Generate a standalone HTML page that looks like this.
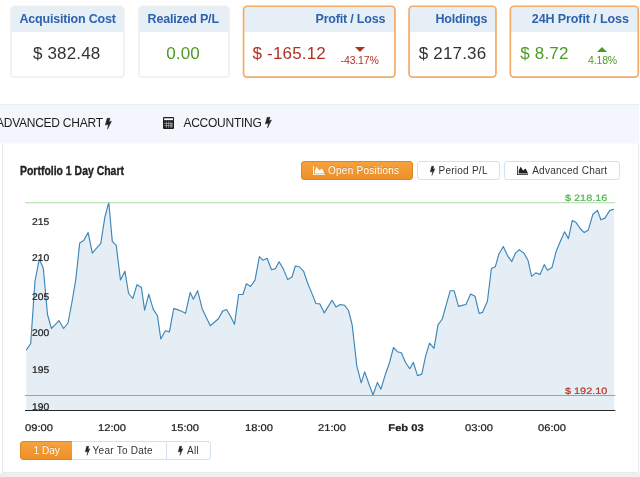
<!DOCTYPE html>
<html><head><meta charset="utf-8"><title>Portfolio</title>
<style>
html,body{margin:0;padding:0}
body{width:640px;height:477px;overflow:hidden;background:#fff;position:relative;font-family:"Liberation Sans",sans-serif;color:#333}
.abs{position:absolute}
.card{position:absolute;top:6px;height:72px;box-sizing:border-box;border:1px solid #e4e7eb;border-radius:4px;background:#fff;overflow:hidden}
.card.o{border:1px solid #f3a85f;box-shadow:0 0 0 0.6px #f6b578}
.card .h{position:absolute;left:0;right:0;top:0;height:25px;background:#e6eef6}
.ht{position:absolute;top:12px;font-weight:bold;font-size:12.5px;letter-spacing:-0.2px;color:#2d62ad;white-space:pre;line-height:14px}
.val{position:absolute;top:44.4px;font-size:17px;letter-spacing:0.17px;line-height:20px;white-space:pre;color:#333}
.red{color:#b03224}.green{color:#4c9c22}
.pct{position:absolute;font-size:10.5px;line-height:12px;letter-spacing:-0.15px;white-space:pre}
.tabbar{position:absolute;left:0;top:104px;width:638.5px;height:39px;background:#f3f7fd;border-top:1px solid #ececee;box-sizing:border-box}
.tab{position:absolute;top:116px;font-size:12px;line-height:14px;letter-spacing:-0.25px;color:#1c1c1c;white-space:pre}
.panel{position:absolute;left:2px;top:143px;width:637px;height:330px;box-sizing:border-box;background:#fff;border:1px solid #ebebeb;border-top:1px solid #f9fbfe}
.foot{position:absolute;left:0;top:473px;width:640px;height:4px;background:#efefef}
.title{position:absolute;left:20.1px;top:163.4px;font-weight:bold;font-size:13px;line-height:16px;color:#222;-webkit-text-stroke:0.35px #222;white-space:pre;transform:scaleX(0.804);transform-origin:0 0}
.btn{position:absolute;box-sizing:border-box;height:18.5px;border:1px solid #d3e1f2;background:#fff;border-radius:3px;font-size:10px;letter-spacing:0.25px;line-height:16px;color:#30333a;white-space:pre}
.btn.on{background:linear-gradient(#f6a23c,#ee8f28);border-color:#dd8726;color:#fff;text-shadow:0 -1px 0 rgba(0,0,0,0.15)}
.btn span{position:absolute;top:0.5px}
.yl{position:absolute;left:32.2px;font-size:9.75px;line-height:10px;color:#222;white-space:pre;text-rendering:geometricPrecision;-webkit-text-stroke:0.22px #222;transform:scaleX(1.06);transform-origin:0 0}
.xl{position:absolute;top:423.8px;font-size:9.75px;line-height:10px;color:#222;white-space:pre;text-rendering:geometricPrecision;transform:translateX(-50%) scaleX(1.145);-webkit-text-stroke:0.22px #222}
.ml{position:absolute;font-size:9.25px;line-height:10px;white-space:pre;text-rendering:geometricPrecision;-webkit-text-stroke:0.2px currentColor;transform:scaleX(1.175);transform-origin:0 0}
</style></head><body>
<div id="wrap" style="position:absolute;left:0;top:0;width:640px;height:477px;will-change:transform">

<svg class="abs" style="left:0;top:0" width="640" height="90" viewBox="0 0 640 90">
<path d="M11.05,31.9 V9.75 Q11.05,6.25 14.55,6.25 H120.35 Q123.85,6.25 123.85,9.75 V31.9 Z" fill="#e6eef6"/>
<rect x="11.05" y="6.25" width="112.80" height="70.80" rx="3.5" fill="none" stroke="#eeeff1" stroke-width="1.7"/>
<path d="M139.05,31.9 V9.75 Q139.05,6.25 142.55,6.25 H225.45 Q228.95,6.25 228.95,9.75 V31.9 Z" fill="#e6eef6"/>
<rect x="139.05" y="6.25" width="89.90" height="70.80" rx="3.5" fill="none" stroke="#eeeff1" stroke-width="1.7"/>
<path d="M243.55,31.9 V9.75 Q243.55,6.25 247.05,6.25 H391.45 Q394.95,6.25 394.95,9.75 V31.9 Z" fill="#e6eef6"/>
<rect x="243.55" y="6.25" width="151.40" height="70.80" rx="3.5" fill="none" stroke="#f3ac6a" stroke-width="1.7"/>
<path d="M409.05,31.9 V9.75 Q409.05,6.25 412.55,6.25 H492.45 Q495.95,6.25 495.95,9.75 V31.9 Z" fill="#e6eef6"/>
<rect x="409.05" y="6.25" width="86.90" height="70.80" rx="3.5" fill="none" stroke="#f3ac6a" stroke-width="1.7"/>
<path d="M510.35,31.9 V9.75 Q510.35,6.25 513.85,6.25 H634.75 Q638.25,6.25 638.25,9.75 V31.9 Z" fill="#e6eef6"/>
<rect x="510.35" y="6.25" width="127.90" height="70.80" rx="3.5" fill="none" stroke="#f3ac6a" stroke-width="1.7"/>
</svg>

<div class="ht" style="left:19.5px">Acquisition Cost</div>
<div class="ht" style="left:147.6px">Realized P/L</div>
<div class="ht" style="left:315.5px">Profit / Loss</div>
<div class="ht" style="left:435.4px">Holdings</div>
<div class="ht" style="left:531.8px;letter-spacing:-0.1px">24H Profit / Loss</div>

<div class="val" style="left:32.9px">$ 382.48</div>
<div class="val green" style="left:166.2px">0.00</div>
<div class="val red" style="left:252.6px">$ -165.12</div>
<div class="val" style="left:418.8px">$ 217.36</div>
<div class="val green" style="left:520.3px">$ 8.72</div>

<svg class="abs" style="left:354.5px;top:46.7px" width="10" height="5" viewBox="0 0 10 5"><polygon points="0,0 10,0 5,5" fill="#b03224"/></svg>
<div class="pct red" style="left:340.6px;top:53.5px">-43.17%</div>
<svg class="abs" style="left:597.3px;top:46.7px" width="10" height="5" viewBox="0 0 10 5"><polygon points="0,5 10,5 5,0" fill="#4c9c22"/></svg>
<div class="pct green" style="left:588px;top:53.5px">4.18%</div>

<div class="tabbar"></div>
<div class="tab" style="left:-4px">ADVANCED CHART</div>
<svg style="position:absolute;left:105px;top:117.5px" width="6.8" height="11.5" viewBox="0 0 7 12" preserveAspectRatio="none" fill="#222" stroke="#222" overflow="visible"><polygon points="2.2,0.3 5.2,0.3 4.1,3.9 6.7,3.3 2.6,11.7 3.4,6.7 0.3,7.4" stroke-width="0.45" stroke-linejoin="round"/></svg>
<svg class="abs" style="left:163px;top:116.9px" width="11.1" height="11.9" viewBox="0 0 12 12" preserveAspectRatio="none"><rect x="0" y="0" width="12" height="12" rx="1.2" fill="#1d1d1d"/><rect x="1.2" y="1.3" width="9.6" height="1.9" fill="#fff"/><g stroke="#c4c4c4" stroke-width="0.65"><path d="M3.7,4.6 V10.9 M6.1,4.6 V10.9 M8.5,4.6 V10.9 M1.2,6.5 H10.8 M1.2,8.7 H8.5"/></g><rect x="9.2" y="7.2" width="0.9" height="3.2" fill="#ddd"/></svg>
<div class="tab" style="left:183.4px">ACCOUNTING</div>
<svg style="position:absolute;left:265px;top:117px" width="6.8" height="11.3" viewBox="0 0 7 12" preserveAspectRatio="none" fill="#222" stroke="#222" overflow="visible"><polygon points="2.2,0.3 5.2,0.3 4.1,3.9 6.7,3.3 2.6,11.7 3.4,6.7 0.3,7.4" stroke-width="0.45" stroke-linejoin="round"/></svg>

<div class="panel"></div>
<div class="foot"></div>
<div class="title">Portfolio 1 Day Chart</div>

<div class="btn on" style="left:301px;top:161px;width:112px"><span style="left:26px">Open Positions</span></div>
<svg style="position:absolute;left:313.1px;top:165.8px" width="12" height="9" viewBox="0 0 16 12" preserveAspectRatio="none" fill="#fff"><path d="M0,0 H1.1 V10.9 H16 V12 H0 Z"/><path d="M2.3,10 V6.4 L4.9,1.1 L8.5,5.9 L12,3.2 L15.3,10 Z"/></svg>
<div class="btn" style="left:417px;top:161px;width:83px"><span style="left:20.5px">Period P/L</span></div>
<svg style="position:absolute;left:430.1px;top:165.7px" width="5.2" height="9.7" viewBox="0 0 7 12" preserveAspectRatio="none" fill="#222" stroke="#222" overflow="visible"><polygon points="2.2,0.3 5.2,0.3 4.1,3.9 6.7,3.3 2.6,11.7 3.4,6.7 0.3,7.4" stroke-width="0.45" stroke-linejoin="round"/></svg>
<div class="btn" style="left:504px;top:161px;width:116.3px"><span style="left:27.2px">Advanced Chart</span></div>
<svg style="position:absolute;left:516.6px;top:165.8px" width="11.6" height="9" viewBox="0 0 16 12" preserveAspectRatio="none" fill="#222"><path d="M0,0 H1.1 V10.9 H16 V12 H0 Z"/><path d="M2.3,10 V6.4 L4.9,1.1 L8.5,5.9 L12,3.2 L15.3,10 Z"/></svg>

<svg class="abs" style="left:0;top:0" width="640" height="477" viewBox="0 0 640 477">
<path d="M26.3,350.1 L30.7,343.5 L35.0,281.0 L39.3,258.9 L43.3,268.3 L47.5,314.5 L51.4,328.5 L55.2,324.6 L59.0,320.7 L63.6,328.5 L68.0,323.0 L71.8,303.0 L75.8,279.3 L79.7,243.1 L83.7,240.6 L88.1,232.4 L92.3,253.2 L97.0,247.7 L100.7,243.7 L104.9,217.0 L108.8,202.5 L112.3,241.4 L116.2,245.3 L120.5,280.0 L124.9,271.2 L128.6,293.5 L132.8,298.5 L137.0,284.7 L141.4,287.4 L144.6,310.2 L148.8,294.2 L153.2,309.1 L157.5,315.8 L160.8,339.0 L165.3,330.8 L169.4,331.9 L173.7,308.6 L178.4,309.9 L182.0,311.6 L185.5,313.3 L190.2,292.4 L193.4,299.3 L197.6,290.7 L202.1,308.4 L206.2,317.3 L210.3,325.8 L214.4,322.3 L218.4,318.8 L222.6,311.1 L226.6,309.5 L230.5,316.3 L234.5,324.3 L238.6,294.5 L242.9,294.5 L246.4,283.8 L250.6,286.5 L255.0,280.2 L259.4,256.6 L262.9,260.2 L267.1,258.3 L271.5,269.7 L275.5,268.6 L279.1,261.8 L283.3,268.9 L287.7,279.6 L292.0,277.0 L295.3,266.0 L299.8,267.0 L303.8,271.7 L307.6,283.0 L312.0,293.6 L315.9,303.5 L319.9,303.9 L324.3,312.9 L328.1,306.6 L332.0,300.3 L336.1,307.1 L340.3,304.6 L344.6,305.3 L348.5,310.5 L352.2,325.0 L356.8,365.9 L361.2,382.9 L364.7,371.9 L368.8,383.5 L373.0,395.0 L377.4,382.4 L380.9,389.2 L385.6,373.7 L389.5,362.7 L393.5,347.5 L397.4,351.7 L401.3,352.8 L405.7,362.7 L409.7,368.7 L413.4,362.4 L417.5,375.6 L421.8,374.1 L425.7,355.7 L429.6,343.1 L434.0,348.3 L438.0,324.8 L442.3,319.0 L446.2,304.8 L450.2,290.7 L454.1,290.7 L458.5,306.4 L462.2,305.4 L465.9,304.5 L470.6,294.1 L475.0,296.2 L479.2,313.5 L482.4,312.4 L487.4,301.2 L491.4,268.5 L495.3,266.8 L498.9,254.0 L503.3,246.5 L507.5,255.6 L511.8,261.6 L515.4,253.2 L519.3,249.6 L524.0,253.2 L528.0,260.3 L531.6,276.4 L535.8,272.9 L540.1,274.5 L544.2,264.6 L547.6,270.2 L552.0,267.4 L556.3,250.9 L560.5,241.1 L564.6,231.8 L568.4,238.6 L572.3,220.4 L576.1,222.6 L580.2,228.5 L584.2,232.6 L588.3,230.1 L592.9,214.2 L597.4,210.4 L600.9,219.8 L604.9,218.1 L609.8,210.4 L614.0,209.3 L614.0,410 L26.3,410 Z" fill="#e6eef5"/>
<path d="M26.3,350.1 L30.7,343.5 L35.0,281.0 L39.3,258.9 L43.3,268.3 L47.5,314.5 L51.4,328.5 L55.2,324.6 L59.0,320.7 L63.6,328.5 L68.0,323.0 L71.8,303.0 L75.8,279.3 L79.7,243.1 L83.7,240.6 L88.1,232.4 L92.3,253.2 L97.0,247.7 L100.7,243.7 L104.9,217.0 L108.8,202.5 L112.3,241.4 L116.2,245.3 L120.5,280.0 L124.9,271.2 L128.6,293.5 L132.8,298.5 L137.0,284.7 L141.4,287.4 L144.6,310.2 L148.8,294.2 L153.2,309.1 L157.5,315.8 L160.8,339.0 L165.3,330.8 L169.4,331.9 L173.7,308.6 L178.4,309.9 L182.0,311.6 L185.5,313.3 L190.2,292.4 L193.4,299.3 L197.6,290.7 L202.1,308.4 L206.2,317.3 L210.3,325.8 L214.4,322.3 L218.4,318.8 L222.6,311.1 L226.6,309.5 L230.5,316.3 L234.5,324.3 L238.6,294.5 L242.9,294.5 L246.4,283.8 L250.6,286.5 L255.0,280.2 L259.4,256.6 L262.9,260.2 L267.1,258.3 L271.5,269.7 L275.5,268.6 L279.1,261.8 L283.3,268.9 L287.7,279.6 L292.0,277.0 L295.3,266.0 L299.8,267.0 L303.8,271.7 L307.6,283.0 L312.0,293.6 L315.9,303.5 L319.9,303.9 L324.3,312.9 L328.1,306.6 L332.0,300.3 L336.1,307.1 L340.3,304.6 L344.6,305.3 L348.5,310.5 L352.2,325.0 L356.8,365.9 L361.2,382.9 L364.7,371.9 L368.8,383.5 L373.0,395.0 L377.4,382.4 L380.9,389.2 L385.6,373.7 L389.5,362.7 L393.5,347.5 L397.4,351.7 L401.3,352.8 L405.7,362.7 L409.7,368.7 L413.4,362.4 L417.5,375.6 L421.8,374.1 L425.7,355.7 L429.6,343.1 L434.0,348.3 L438.0,324.8 L442.3,319.0 L446.2,304.8 L450.2,290.7 L454.1,290.7 L458.5,306.4 L462.2,305.4 L465.9,304.5 L470.6,294.1 L475.0,296.2 L479.2,313.5 L482.4,312.4 L487.4,301.2 L491.4,268.5 L495.3,266.8 L498.9,254.0 L503.3,246.5 L507.5,255.6 L511.8,261.6 L515.4,253.2 L519.3,249.6 L524.0,253.2 L528.0,260.3 L531.6,276.4 L535.8,272.9 L540.1,274.5 L544.2,264.6 L547.6,270.2 L552.0,267.4 L556.3,250.9 L560.5,241.1 L564.6,231.8 L568.4,238.6 L572.3,220.4 L576.1,222.6 L580.2,228.5 L584.2,232.6 L588.3,230.1 L592.9,214.2 L597.4,210.4 L600.9,219.8 L604.9,218.1 L609.8,210.4 L614.0,209.3" fill="none" stroke="#3d86b7" stroke-width="1.15" stroke-linejoin="round"/>
<line x1="25" y1="202.7" x2="615.3" y2="202.7" stroke="#addca5" stroke-width="1.1"/>
<line x1="25" y1="395.5" x2="615.3" y2="395.5" stroke="#d18e87" stroke-width="1"/>
<line x1="25" y1="410.5" x2="615.3" y2="410.5" stroke="#2a2a2a" stroke-width="1.2"/>
</svg>

<div class="yl" style="top:217.6px">215</div>
<div class="yl" style="top:254.1px">210</div>
<div class="yl" style="top:292.9px">205</div>
<div class="yl" style="top:329.4px">200</div>
<div class="yl" style="top:366.2px">195</div>
<div class="yl" style="top:402.8px">190</div>

<div class="xl" style="left:38.6px">09:00</div>
<div class="xl" style="left:111.9px">12:00</div>
<div class="xl" style="left:185.3px">15:00</div>
<div class="xl" style="left:258.7px">18:00</div>
<div class="xl" style="left:332px">21:00</div>
<div class="xl" style="left:405.6px;font-weight:bold">Feb 03</div>
<div class="xl" style="left:478.8px">03:00</div>
<div class="xl" style="left:551.9px">06:00</div>

<div class="ml" style="left:564.8px;top:193.4px;color:#56b24e">$ 218.16</div>
<div class="ml" style="left:564.8px;top:386.1px;color:#b5352b">$ 192.10</div>

<div class="btn on" style="left:20px;top:441px;width:52.5px;border-radius:3px 0 0 3px"><span style="left:12.6px;letter-spacing:0">1 Day</span></div>
<div class="btn" style="left:72px;top:441px;width:94.5px;border-radius:0;border-left:none"><span style="left:20.6px">Year To Date</span></div>
<svg style="position:absolute;left:84.5px;top:445.6px" width="5.2" height="9.7" viewBox="0 0 7 12" preserveAspectRatio="none" fill="#222" stroke="#222" overflow="visible"><polygon points="2.2,0.3 5.2,0.3 4.1,3.9 6.7,3.3 2.6,11.7 3.4,6.7 0.3,7.4" stroke-width="0.45" stroke-linejoin="round"/></svg>
<div class="btn" style="left:166px;top:441px;width:44.5px;border-radius:0 3px 3px 0"><span style="left:20px">All</span></div>
<svg style="position:absolute;left:178.2px;top:445.6px" width="5.2" height="9.7" viewBox="0 0 7 12" preserveAspectRatio="none" fill="#222" stroke="#222" overflow="visible"><polygon points="2.2,0.3 5.2,0.3 4.1,3.9 6.7,3.3 2.6,11.7 3.4,6.7 0.3,7.4" stroke-width="0.45" stroke-linejoin="round"/></svg>

</div>
</body></html>
